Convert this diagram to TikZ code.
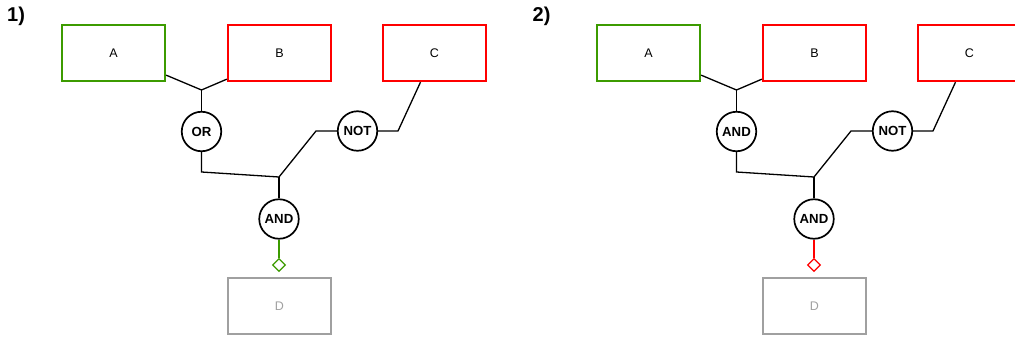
\documentclass[tikz,border=0pt]{standalone}
\usepackage{fontspec}
\setmainfont{Liberation Sans}
\usetikzlibrary{calc,shapes.geometric}
\definecolor{okgreen}{RGB}{60,155,0}
\definecolor{badred}{RGB}{255,0,0}
\definecolor{dgray}{RGB}{160,160,160}
\tikzset{
 box/.style={draw, line width=1.8pt, minimum width=103.5pt, minimum height=56.5pt, inner sep=0pt, font=\fontsize{12.5}{14}\selectfont},
 gate/.style={draw, circle, line width=1.7pt, minimum size=39.5pt, inner sep=0pt, font=\fontsize{13.2}{15}\selectfont\bfseries},
 wire/.style={line width=1.3pt},
 tipmark/.style={draw, diamond, line width=1.3pt, minimum size=13pt, inner sep=0pt, fill=white},
 plabel/.style={font=\fontsize{20}{24}\selectfont\bfseries, inner sep=0pt, anchor=west}
}
\newcommand{\drawpanel}[6]{%
\begin{scope}[xshift=#2pt, name prefix=#1-]
\node[plabel] (num) at (#6,16) {#5)};
\node[box, draw=okgreen] (A) at (113.5,53) {A};
\node[box, draw=badred] (B) at (279.5,53) {B};
\node[box, draw=badred] (C) at (434.5,53) {C};
\node[gate] (G1) at (201.5,131.5) {#3};
\node[gate] (N) at (357.5,131) {NOT};
\node[gate] (G2) at (279,219) {AND};
\node[tipmark, draw=#4] (T) at (279,265) {};
\node[box, draw=dgray, text=dgray] (D) at (279.5,306) {D};
\coordinate (j1) at (201.5,90);
\coordinate (j2) at (279,177);
\coordinate (k1) at (201.5,172);
\coordinate (k2) at (316,131);
\coordinate (k3) at (398,131);
\draw[wire] ([yshift=7pt]A.south east) -- (j1) -- ([yshift=3pt]B.south west);
\draw[wire] (j1) -- (G1);
\draw[wire] (G1) -- (k1) -- (j2) -- (k2) -- (N);
\draw[wire] (N) -- (k3) -- ([xshift=-14pt]C.south);
\draw[wire] (j2) -- (G2);
\draw[wire, draw=#4] (G2) -- (T);
\end{scope}}
\begin{document}
\begin{tikzpicture}[x=1pt,y=-1pt]
\useasboundingbox (0,0) rectangle (1015,340);
\drawpanel{p1}{0}{OR}{okgreen}{1}{7}
\drawpanel{p2}{535}{AND}{badred}{2}{-2.5}
\end{tikzpicture}
\end{document}
